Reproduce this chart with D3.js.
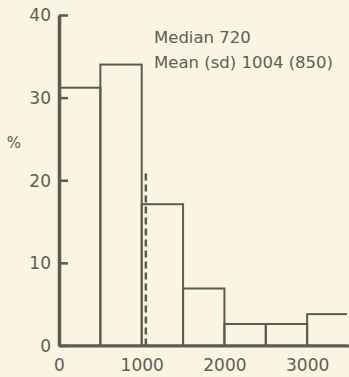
<!DOCTYPE html>
<html>
<head>
<meta charset="utf-8">
<script src="https://cdn.jsdelivr.net/npm/d3@7"></script>
<style>
    html, body { margin: 0; padding: 0; background: #faf4e3; }
    svg { display: block; }
    text { font-family: "DejaVu Sans", sans-serif; fill: #5e5e55; }
</style>
</head>
<body>
<div id="chart"></div>
<script>
// histogram bins (lower edge, upper edge) and percentages
const binStarts = [0, 500, 1000, 1500, 2000, 2500, 3000];
const binEnds = [500, 1000, 1500, 2000, 2500, 3000, 3500];
const percents = [31.2, 34, 17.1, 6.9, 2.6, 2.6, 3.8];
const yTicks = [0, 10, 20, 30, 40];
const xTicks = [0, 1000, 2000, 3000];
const meanMark = 1050;      // where the dashed line sits in the picture
const meanMarkTop = 21;     // dashed line reaches about this height (%)
const notes = ["Median 720", "Mean (sd) 1004 (850)"];

document.addEventListener('DOMContentLoaded', () => {
    const width = 349, height = 377;
    const ink = "#5b5b50";

    const svg = d3.select("#chart").append("svg")
        .attr("width", width)
        .attr("height", height);

    const x = d3.scaleLinear().domain([0, 3500]).range([59, 348.5]);
    const y = d3.scaleLinear().domain([0, 40]).range([345.5, 15]);

    // keep the last bar running off the right edge
    svg.append("clipPath").attr("id", "plot")
        .append("rect")
        .attr("x", 0).attr("y", 0)
        .attr("width", 347).attr("height", height);

    // bars
    svg.append("g")
        .attr("clip-path", "url(#plot)")
        .selectAll("rect")
        .data(percents)
        .join("rect")
        .attr("x", (d, i) => x(binStarts[i]))
        .attr("y", d => y(d))
        .attr("width", (d, i) => x(binEnds[i]) - x(binStarts[i]))
        .attr("height", d => y(0) - y(d))
        .attr("fill", "none")
        .attr("stroke", ink)
        .attr("stroke-width", 2);

    // mean marker
    svg.append("line")
        .attr("x1", x(meanMark)).attr("x2", x(meanMark))
        .attr("y1", y(0)).attr("y2", y(meanMarkTop))
        .attr("stroke", ink)
        .attr("stroke-width", 2.5)
        .attr("stroke-dasharray", "7,4");

    // y axis, ticks pointing inwards
    const yAxis = svg.append("g")
        .attr("transform", `translate(${x(0)},0)`)
        .call(d3.axisLeft(y).tickValues(yTicks).tickFormat(d3.format("d"))
            .tickSizeInner(-9).tickSizeOuter(0).tickPadding(8));
    yAxis.select(".domain").attr("stroke", ink).attr("stroke-width", 3.5);
    yAxis.selectAll(".tick line").attr("stroke", ink).attr("stroke-width", 2.5);
    yAxis.selectAll(".tick text")
        .attr("dy", "0.35em")
        .style("font-size", "17px")
        .style("fill", "#5e5e55");

    // x axis
    const xAxis = svg.append("g")
        .attr("transform", `translate(0,${y(0)})`)
        .call(d3.axisBottom(x).tickValues(xTicks).tickFormat(d3.format("d"))
            .tickSize(0).tickPadding(13));
    xAxis.select(".domain").attr("stroke", ink).attr("stroke-width", 3);
    xAxis.selectAll(".tick text")
        .style("font-size", "17px")
        .style("fill", "#5e5e55");
    svg.selectAll(".tick text").attr("font-family", null);

    // axis title
    svg.append("text")
        .attr("x", 14).attr("y", 148)
        .attr("text-anchor", "middle")
        .style("font-size", "15px")
        .text("%");

    // notes
    svg.append("g")
        .selectAll("text")
        .data(notes)
        .join("text")
        .attr("x", 154)
        .attr("y", (d, i) => 43.3 + i * 25)
        .style("font-size", "16.5px")
        .text(d => d);
});
</script>
</body>
</html>
